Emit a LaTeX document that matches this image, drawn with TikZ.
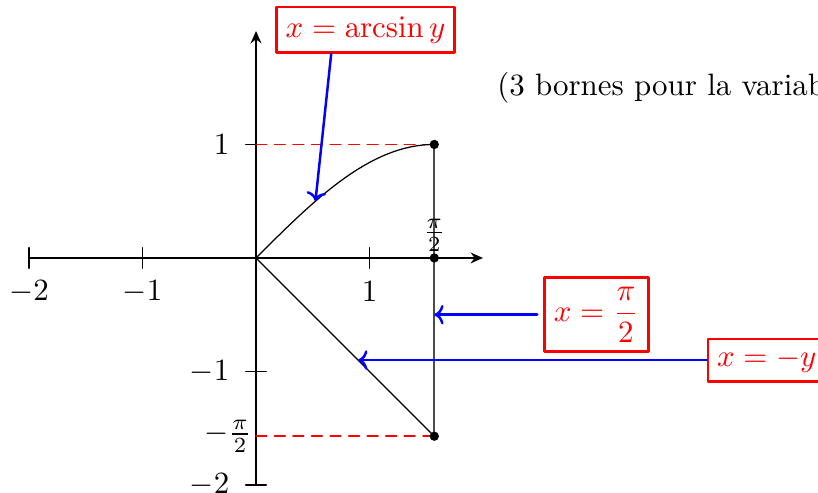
\documentclass[tikz,border=0pt]{standalone}
\usepackage{amsmath, amssymb}
\usetikzlibrary{arrows.meta, calc, positioning}
\tikzset{
  every picture/.style={line cap=round, line join=round},
  axis/.style={semithick, -{Stealth[length=4pt, width=3.5pt]}},
  tickmark/.style={semithick},
  guide/.style={red, semithick, dash pattern=on 3.4pt off 2.6pt},
  % framed red call-outs and their blue pointers
  callbox/.style={draw=red, thick, text=red, inner sep=3pt},
  callarrow/.style={blue, thick, -{To[length=3pt]}},
  dotpt/.style={circle, fill=black, inner sep=0pt, minimum size=3pt},
}

\begin{document}
\begin{tikzpicture}[x=1.29cm, y=1.29cm]
  \useasboundingbox (-2.256,-2.070) rectangle (4.952,2.273);
  % axes
  \draw[axis] (-2,0) -- (2,0);
  \draw[axis] (0,-2) -- (0,2);
  \foreach \x in {-2,-1,1} {
    \draw[tickmark] (\x,-0.09) -- (\x,0.09);
    \node (lx\x) at (\x,-0.3) {$\x$};
  }
  \foreach \y in {1,-1,-2} {
    \draw[tickmark] (-0.09,\y) -- (0.09,\y);
    \node[anchor=east] (ly\y) at (-0.14,\y) {$\y$};
  }
  % domain
  \coordinate (O) at (0,0);
  \coordinate (top) at ({pi/2},1);
  \coordinate (mid) at ({pi/2},0);
  \coordinate (bot) at ({pi/2},{-pi/2});
  \draw[guide] (0,1) -- (top);
  \draw[guide] (0,{-pi/2}) -- (bot);
  \draw[domain=0:pi/2, samples=60, smooth] plot (\x, {sin(\x r)});
  \draw (O) -- (bot);
  \draw[black!70, semithick] (top) -- (bot);
  \node[dotpt] at (top) {};
  \node[dotpt] at (mid) {};
  \node[dotpt] at (bot) {};
  \node[above, inner sep=2pt] (lpi) at (mid) {$\frac{\pi}{2}$};
  \node[anchor=east, inner sep=1.3pt] (lmpi) at (0,{-pi/2}) {$-\frac{\pi}{2}$};
  % call-outs
  \node[callbox] (arcbox) at (0.965,2.01) {$x=\arcsin y$};
  \node[callbox] (halfpi) at (3,-0.5) {$x=\dfrac{\pi}{2}$};
  \node[callbox] (negy) at (4.5,-0.9) {$x=-y$};
  \node[anchor=west] (bornes) at (2.03,1.5) {(3 bornes pour la variable};
  \coordinate (arcpt) at ({asin(0.5)*pi/180},0.5);
  \coordinate (halfpt) at ({pi/2},-0.5);
  \coordinate (negpt) at (0.9,-0.9);
  \draw[callarrow] ($(arcbox.south west)!0.31!(arcbox.south east)$) -- (arcpt);
  \draw[callarrow, shorten <=2pt] (halfpi.west) -- (halfpt);
  \draw[callarrow] (negy.west) -- (negpt);
\end{tikzpicture}
\end{document}
